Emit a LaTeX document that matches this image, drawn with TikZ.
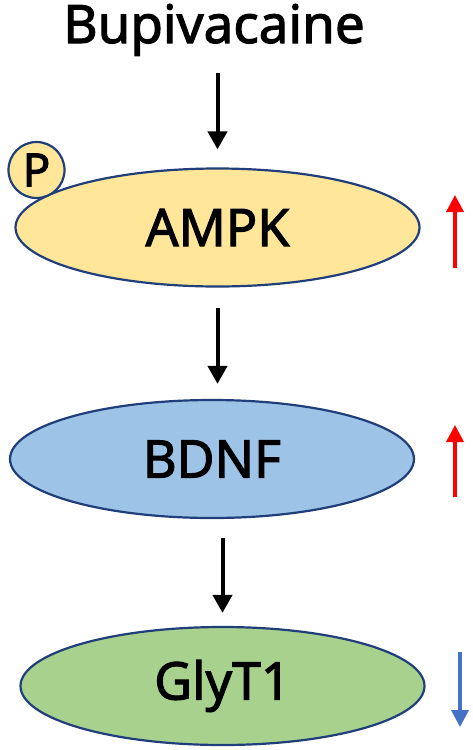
\documentclass[tikz,border=0pt]{standalone}
\usepackage{fontspec}
\setmainfont{Noto Sans}
\newfontfamily\heavy[FakeBold=2]{Noto Sans}
\usetikzlibrary{shapes.geometric,arrows.meta}
\definecolor{yel}{HTML}{FFE699}
\definecolor{blu}{HTML}{9DC3E6}
\definecolor{grn}{HTML}{A9D18E}
\definecolor{edge}{HTML}{203F7A}
\definecolor{upred}{HTML}{FF0000}
\definecolor{downblue}{HTML}{4472C4}
\tikzset{
  prot/.style={ellipse, draw=edge, line width=2.2pt, minimum width=404pt, minimum height=118pt, inner sep=0pt, font=\heavy\fontsize{52}{52}\selectfont},
  flow/.style={line width=4pt, -{Triangle[width=19pt,length=18pt]}},
  upar/.style={line width=3.6pt, draw=upred, -{Triangle[width=17pt,length=17pt]}},
  downar/.style={line width=3.6pt, draw=downblue, -{Triangle[width=17pt,length=17pt]}}
}
\begin{document}
\begin{tikzpicture}[x=1pt,y=-1pt]
\useasboundingbox (0,0) rectangle (472,750);
\node[anchor=base, inner sep=0pt, font=\heavy\fontsize{53}{53}\selectfont] (bup) at (214,43) {Bupivacaine};
\node[prot, fill=yel] (ampk) at (217.5,227.5) {AMPK};
\node[prot, fill=blu] (bdnf) at (212,459) {BDNF};
\node[prot, fill=grn] (glyt) at (222.5,686) {GlyT1};
\node[circle, draw=edge, fill=yel, line width=2.2pt, minimum size=56pt, inner sep=0pt, font=\heavy\fontsize{46}{46}\selectfont] (p) at (36.5,170) {P};
\draw[flow, shorten <=17pt, shorten >=18pt] (bup.south -| ampk.north) -- (ampk.north);
\draw[flow, shorten <=20pt, shorten >=15pt] (ampk.south) -- (ampk.south |- bdnf.north);
\draw[flow, shorten <=19pt, shorten >=13pt] (glyt.north |- bdnf.south) -- (glyt.north);
\coordinate (u1a) at (455,268); \coordinate (u1b) at (455,195);
\coordinate (u2a) at (455,497); \coordinate (u2b) at (455,425);
\coordinate (d1a) at (460,652); \coordinate (d1b) at (460,727);
\draw[upar] (u1a) -- (u1b);
\draw[upar] (u2a) -- (u2b);
\draw[downar] (d1a) -- (d1b);
\end{tikzpicture}
\end{document}
